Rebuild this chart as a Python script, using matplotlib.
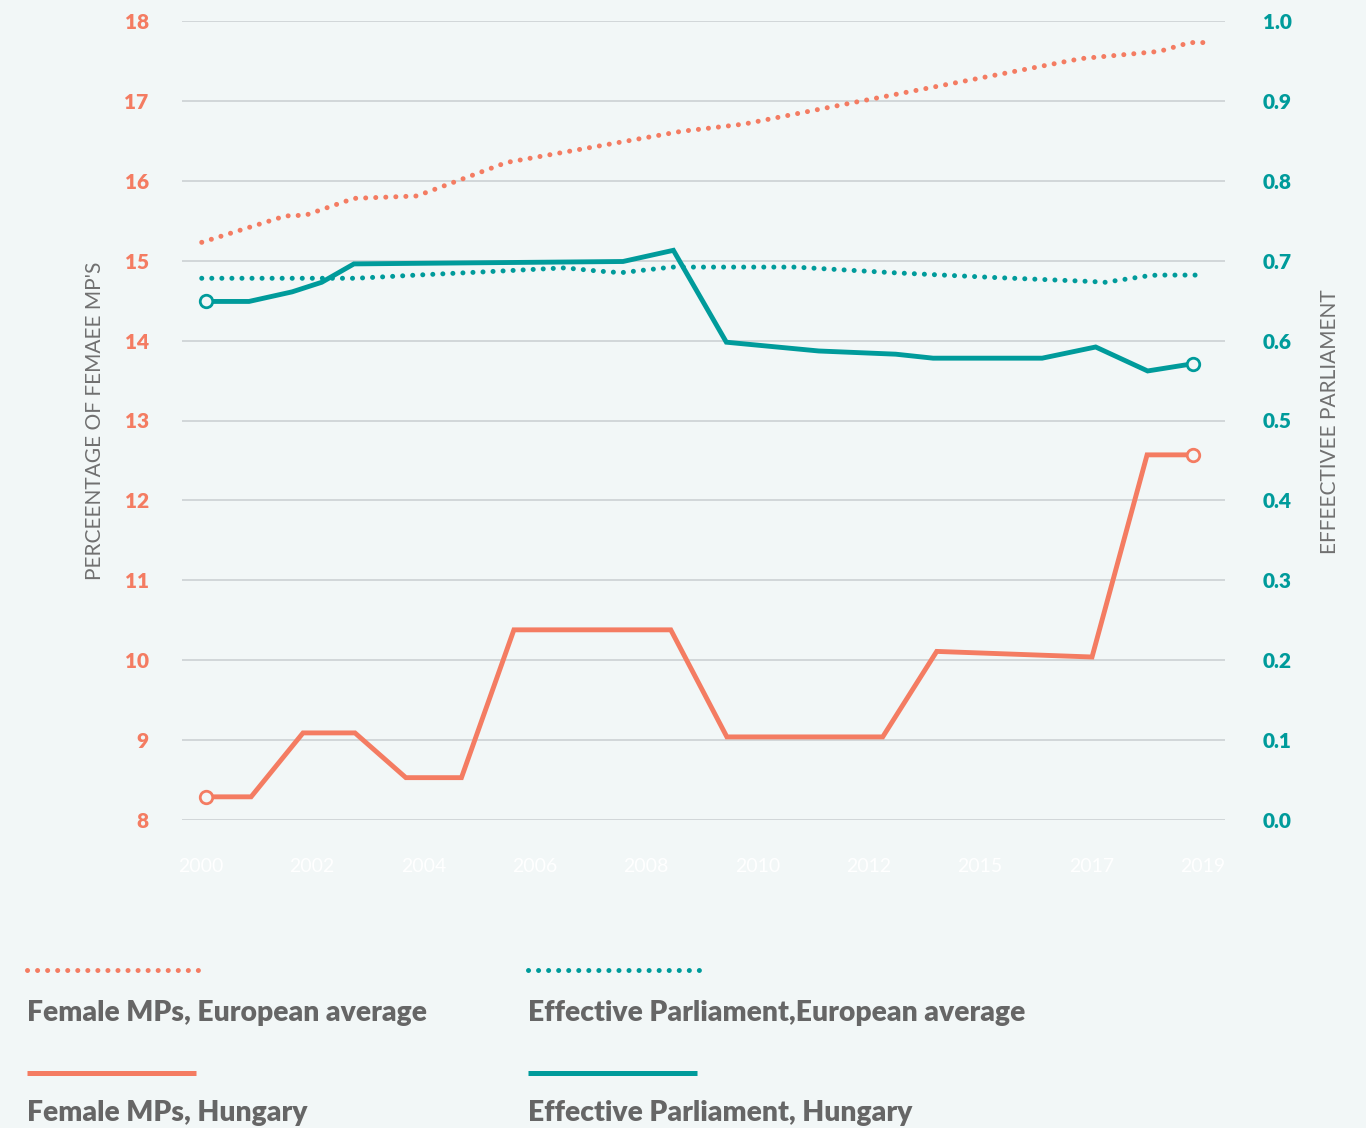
import matplotlib
matplotlib.use('Agg')
import matplotlib.pyplot as plt
from matplotlib.lines import Line2D
import numpy as np

# colours
ORANGE = '#f47c62'
TEAL = '#009b9b'
BG = '#f2f7f7'
GRID = '#cfd4d6'
GREY = '#666666'

# Female MPs, Hungary (percentage)
hu_f_x = [2000.0, 2000.87, 2001.87, 2002.87, 2003.85, 2004.92, 2005.93, 2008.95,
          2010.03, 2013.03, 2014.07, 2017.06, 2018.12, 2019.0]
hu_f_y = [8.29, 8.29, 9.09, 9.09, 8.53, 8.53, 10.38, 10.38,
          9.04, 9.04, 10.11, 10.04, 12.57, 12.57]

# Female MPs, European average (percentage)
eu_f_x = [1999.92, 2001.53, 2001.92, 2002.85, 2004.06, 2004.64, 2005.79, 2009.16,
          2009.57, 2010.36, 2012.63, 2014.3, 2016.61, 2016.86, 2018.36, 2018.94, 2019.21]
eu_f_y = [15.23, 15.56, 15.57, 15.78, 15.81, 15.95, 16.23, 16.62,
          16.65, 16.71, 17.0, 17.21, 17.5, 17.53, 17.62, 17.73, 17.73]

# Effective Parliament, Hungary
hu_ep_x = [2000.0, 2000.83, 2001.66, 2002.23, 2002.85, 2008.03, 2009.0, 2010.02,
           2011.8, 2013.28, 2014.0, 2016.1, 2017.13, 2018.13, 2019.0]
hu_ep_y = [0.649, 0.649, 0.661, 0.673, 0.696, 0.699, 0.713, 0.598,
           0.587, 0.583, 0.578, 0.578, 0.592, 0.562, 0.571]

# Effective Parliament, European average
eu_ep_x = [1999.92, 2002.23, 2002.89, 2004.06, 2005.35, 2006.58, 2006.91, 2007.56,
           2007.99, 2008.97, 2011.34, 2013.22, 2015.17, 2017.04, 2017.31, 2018.13,
           2018.31, 2019.21]
eu_ep_y = [0.678, 0.678, 0.678, 0.682, 0.686, 0.690, 0.691, 0.687,
           0.685, 0.692, 0.692, 0.685, 0.679, 0.674, 0.673, 0.681,
           0.682, 0.682]

year_labels = ['2000', '2002', '2004', '2006', '2008', '2010', '2012', '2015', '2017', '2019']
left_ticks = list(range(8, 19))
right_ticks = [round(0.1 * i, 1) for i in range(11)]

legend_labels = ['Female MPs, European average', 'Effective Parliament,European average',
                 'Female MPs, Hungary', 'Effective Parliament, Hungary']

W, H = 1366, 1128
fig = plt.figure(figsize=(W / 100, H / 100), dpi=100, facecolor=BG)
ax = fig.add_axes([182 / W, (H - 820) / H, (1225 - 182) / W, 799 / H])
ax.set_facecolor(BG)
ax2 = ax.twinx()

dot = (0, (0.01, 2.0))

ax.plot(eu_f_x, eu_f_y, color=ORANGE, lw=3.6, linestyle=dot,
        dash_capstyle='round', clip_on=False, zorder=3)
ax.plot(hu_f_x, hu_f_y, color=ORANGE, lw=3.5, solid_joinstyle='miter',
        clip_on=False, zorder=3)
ax.plot([hu_f_x[0], hu_f_x[-1]], [hu_f_y[0], hu_f_y[-1]], 'o', ms=9,
        mfc=BG, mec=ORANGE, mew=2, clip_on=False, zorder=4)

ax2.plot(eu_ep_x, eu_ep_y, color=TEAL, lw=3.6, linestyle=dot,
         dash_capstyle='round', clip_on=False, zorder=3)
ax2.plot(hu_ep_x, hu_ep_y, color=TEAL, lw=3.5, solid_joinstyle='miter',
         clip_on=False, zorder=3)
ax2.plot([hu_ep_x[0], hu_ep_x[-1]], [hu_ep_y[0], hu_ep_y[-1]], 'o', ms=9,
         mfc=BG, mec=TEAL, mew=2, clip_on=False, zorder=4)

ax.set_xlim(1999.54, 2019.62)
ax.set_ylim(8, 18)
ax2.set_ylim(0, 1)

ax.set_yticks(left_ticks)
ax.set_yticklabels([str(t) for t in left_ticks], color=ORANGE,
                   fontsize=15, fontweight='heavy', family='Lato')
ax2.set_yticks(right_ticks)
ax2.set_yticklabels([f'{t:.1f}' for t in right_ticks], color=TEAL,
                    fontsize=15, fontweight='heavy', family='Lato')
ax.tick_params(axis='y', length=0, pad=24)
ax2.tick_params(axis='y', length=0, pad=27)

ax.set_xticks(np.linspace(1999.9, 2019.19, len(year_labels)))
ax.set_xticklabels(year_labels, color='white', fontsize=14, family='Lato')
ax.tick_params(axis='x', length=0, pad=27)

ax.grid(axis='y', color=GRID, lw=1.3)
ax.set_axisbelow(True)
for a in (ax, ax2):
    for s in a.spines.values():
        s.set_visible(False)

fig.text(95 / W, 1 - 421 / H, "PERCEENTAGE OF FEMAEE MP'S", rotation=90,
         ha='center', va='center', color='#707070', fontsize=15, family='Lato')
fig.text(1330 / W, 1 - 422 / H, 'EFFEECTIVEE PARLIAMENT', rotation=90,
         ha='center', va='center', color='#707070', fontsize=15, family='Lato')

# legend, drawn by hand in two columns
legend_styles = [(ORANGE, dot), (TEAL, dot), (ORANGE, '-'), (TEAL, '-')]
for i, (lab, (col, ls)) in enumerate(zip(legend_labels, legend_styles)):
    x0 = 27 if i % 2 == 0 else 528
    ly = 970 if i < 2 else 1073
    ty = 1013 if i < 2 else 1113
    x1 = x0 + (176 if ls == dot else 169)
    fig.add_artist(Line2D([x0 / W, x1 / W], [1 - ly / H, 1 - ly / H],
                          color=col, lw=3.6, linestyle=ls,
                          dash_capstyle='round', solid_capstyle='butt'))
    fig.text(x0 / W, 1 - ty / H, lab, ha='left', va='center', color=GREY,
             fontsize=20.3, fontweight='heavy', family='Lato')

fig.savefig('out.png', dpi=100, facecolor=BG)
